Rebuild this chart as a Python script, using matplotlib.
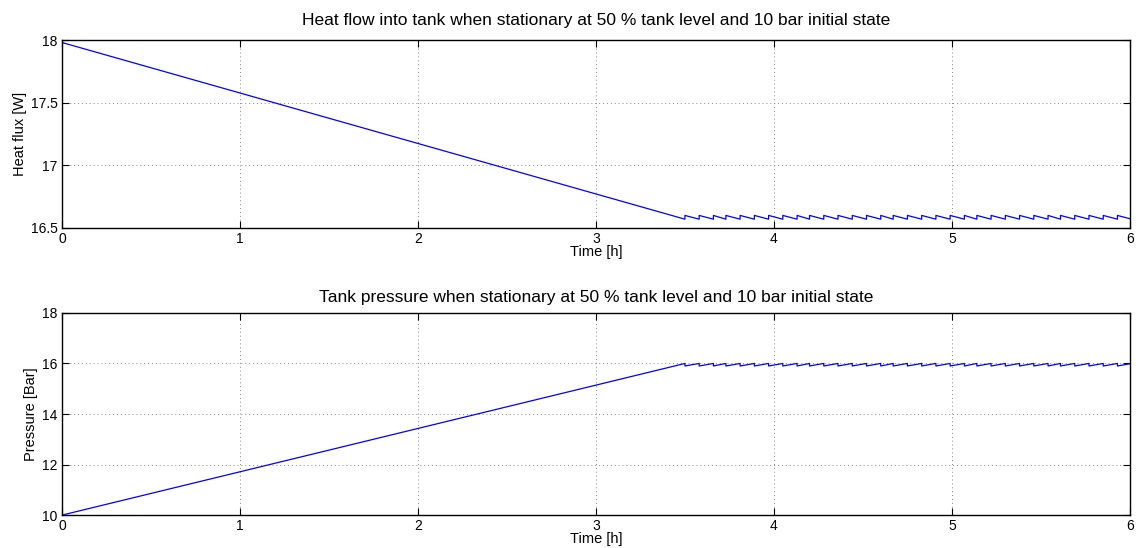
import matplotlib

matplotlib.use("Agg")
import matplotlib.pyplot as plt

# values
ramp_time = [0.0, 3.5]
heat_ramp = [17.98, 16.57]
pressure_ramp = [10.0, 16.0]

# relief valve cycles after the pressure limit is reached
cycle_start = [3.50, 3.58, 3.66, 3.73, 3.81, 3.89, 3.97, 4.05, 4.13, 4.20, 4.28,
               4.36, 4.44, 4.52, 4.60, 4.67, 4.75, 4.83, 4.91, 4.99, 5.07, 5.14,
               5.22, 5.30, 5.38, 5.46, 5.54, 5.61, 5.69, 5.77, 5.85, 5.93]
t_end = 6.0
heat_low, heat_high = 16.57, 16.60
pressure_high, pressure_low = 16.0, 15.9

TITLE_HEAT = "Heat flow into tank when stationary at 50 % tank level and 10 bar initial state"
TITLE_PRESSURE = "Tank pressure when stationary at 50 % tank level and 10 bar initial state"


def sawtooth(start, low_after_jump, end_value):
    t, y = [], []
    edges = cycle_start + [t_end]
    for k in range(len(cycle_start)):
        t += [edges[k], edges[k]]
        y += [end_value, low_after_jump]
    t.append(t_end)
    frac = (t_end - cycle_start[-1]) / (cycle_start[-1] - cycle_start[-2])
    y.append(low_after_jump + (end_value - low_after_jump) * min(frac, 1.0))
    return t, y


def style(ax, title, ylabel, ylim, yticks, title_pad):
    ax.set_xlim(0, 6)
    ax.set_ylim(*ylim)
    ax.set_xticks(range(7))
    ax.set_yticks(yticks)
    ax.set_yticklabels([f"{v:g}" for v in yticks])
    ax.grid(True, color="#888888", linestyle=(0, (1, 3)), linewidth=0.7)
    ax.tick_params(direction="in", length=5, labelsize=10, top=True, right=True,
                   labeltop=False, labelright=False, pad=3)
    ax.set_title(title, fontsize=12.5, pad=title_pad)
    ax.set_xlabel("Time [h]", fontsize=10.5, labelpad=-1)
    ax.set_ylabel(ylabel, fontsize=10.5, labelpad=3)
    for s in ax.spines.values():
        s.set_linewidth(1.0)


plt.rcParams["font.family"] = ["Liberation Sans", "DejaVu Sans"]
fig = plt.figure(figsize=(11.41, 5.48), dpi=100)
ax1 = fig.add_axes([0.0543, 0.584, 0.936, 0.343])
ax2 = fig.add_axes([0.0543, 0.060, 0.936, 0.369])

t_h, y_h = sawtooth(cycle_start, heat_high, heat_low)
ax1.plot(ramp_time + t_h, heat_ramp + y_h, color="#0000ff", linewidth=0.9)
style(ax1, TITLE_HEAT, "Heat flux [W]", (16.5, 18.0), [16.5, 17, 17.5, 18], 11)

t_p, y_p = sawtooth(cycle_start, pressure_low, pressure_high)
ax2.plot(ramp_time + t_p, pressure_ramp + y_p, color="#0000ff", linewidth=0.9)
style(ax2, TITLE_PRESSURE, "Pressure [Bar]", (10, 18), [10, 12, 14, 16, 18], 8)

fig.savefig("out.png", dpi=100)
